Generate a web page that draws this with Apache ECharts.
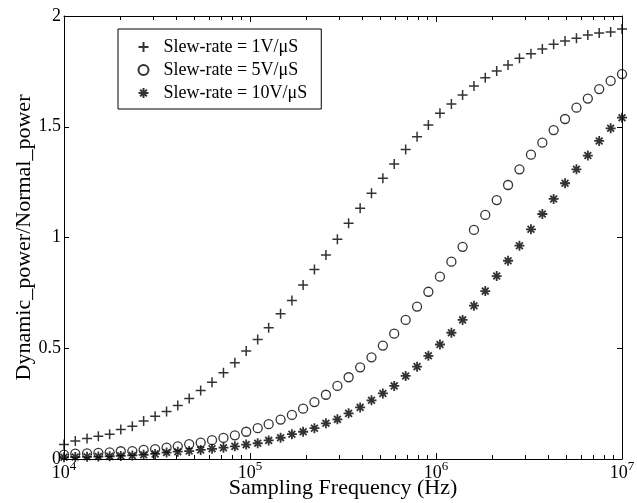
<!DOCTYPE html>
<html>
<head>
<meta charset="utf-8">
<script src="https://cdn.jsdelivr.net/npm/echarts@6/dist/echarts.min.js"></script>
<style>
  html, body { margin: 0; padding: 0; background: #fff; }
  #chart { width: 637px; height: 503px; }
</style>
</head>
<body>
<div id="chart"></div>
<script>
// Sampling frequencies (Hz), 50 log-spaced points over three decades
const frequencies = [
  10000, 11500, 13300, 15300, 17600, 20200, 23300, 26800, 30900, 35600,
  40900, 47100, 54300, 62500, 72000, 82900, 95400, 110000, 126000, 146000,
  168000, 193000, 222000, 256000, 295000, 339000, 391000, 450000, 518000, 596000,
  687000, 791000, 910000, 1050000, 1210000, 1390000, 1600000, 1840000, 2120000, 2440000,
  2810000, 3240000, 3730000, 4290000, 4940000, 5690000, 6550000, 7540000, 8690000, 10000000
];

// Dynamic_power / Normal_power ratio for each slew rate
const ratio1V = [
  0.066, 0.081, 0.092, 0.103, 0.112, 0.133, 0.148, 0.172, 0.193, 0.215,
  0.242, 0.273, 0.309, 0.347, 0.389, 0.435, 0.488, 0.540, 0.593, 0.656,
  0.716, 0.786, 0.856, 0.921, 0.992, 1.064, 1.132, 1.200, 1.267, 1.332,
  1.397, 1.455, 1.508, 1.561, 1.603, 1.643, 1.684, 1.721, 1.752, 1.779,
  1.809, 1.830, 1.851, 1.872, 1.887, 1.899, 1.914, 1.923, 1.928, 1.941
];
const ratio5V = [
  0.020, 0.024, 0.025, 0.028, 0.030, 0.035, 0.036, 0.041, 0.045, 0.051,
  0.057, 0.067, 0.074, 0.085, 0.095, 0.107, 0.123, 0.139, 0.157, 0.178,
  0.199, 0.227, 0.257, 0.290, 0.330, 0.369, 0.414, 0.459, 0.512, 0.566,
  0.628, 0.688, 0.755, 0.823, 0.891, 0.958, 1.034, 1.102, 1.169, 1.237,
  1.308, 1.374, 1.428, 1.485, 1.535, 1.586, 1.627, 1.670, 1.707, 1.738
];
const ratio10V = [
  0.008, 0.009, 0.010, 0.011, 0.012, 0.014, 0.016, 0.019, 0.023, 0.029,
  0.033, 0.036, 0.041, 0.046, 0.051, 0.057, 0.065, 0.071, 0.084, 0.096,
  0.112, 0.123, 0.139, 0.161, 0.179, 0.206, 0.233, 0.265, 0.296, 0.330,
  0.375, 0.417, 0.466, 0.517, 0.570, 0.628, 0.692, 0.758, 0.826, 0.895,
  0.963, 1.037, 1.106, 1.174, 1.245, 1.308, 1.370, 1.436, 1.493, 1.541
];

const seriesNames = ['Slew-rate = 1V/\u03bcS', 'Slew-rate = 5V/\u03bcS', 'Slew-rate = 10V/\u03bcS'];

// Minor tick positions on the logarithmic frequency axis
const minorTickFreqs = [
  20000, 30000, 40000, 50000, 60000, 70000, 80000, 90000,
  200000, 300000, 400000, 500000, 600000, 700000, 800000, 900000,
  2000000, 3000000, 4000000, 5000000, 6000000, 7000000, 8000000, 9000000
];

const xMin = 1e4, xMax = 1e7, yMin = 0, yMax = 2;
const FONT = '"Liberation Serif", "Times New Roman", serif';

const plusSymbol = 'path://M5 0L5 10M0 5L10 5';
const starSymbol = 'path://M5 0L5 10M0 5L10 5M1.6 1.6L8.4 8.4M8.4 1.6L1.6 8.4';

function pairs(ys) { return frequencies.map((f, i) => [f, ys[i]]); }

const chart = echarts.init(document.getElementById('chart'), null, { renderer: 'canvas' });

const xAxisCommon = {
  type: 'log',
  logBase: 10,
  min: xMin,
  max: xMax,
  axisLine: { show: true, onZero: false, lineStyle: { color: '#000', width: 1 } },
  axisTick: { show: true, inside: true, length: 6, lineStyle: { color: '#000', width: 1 } },
  splitLine: { show: false },
  minorTick: { show: false },
  minorSplitLine: { show: false }
};
const yAxisCommon = {
  type: 'value',
  min: yMin,
  max: yMax,
  interval: 0.5,
  axisLine: { show: true, onZero: false, lineStyle: { color: '#000', width: 1 } },
  axisTick: { show: true, inside: true, length: 5, lineStyle: { color: '#000', width: 1 } },
  splitLine: { show: false }
};

chart.setOption({
  backgroundColor: '#fff',
  animation: false,
  textStyle: { fontFamily: FONT, color: '#000' },
  grid: { left: 64, right: 15, top: 16, bottom: 44, containLabel: false, outerBoundsMode: 'none' },
  xAxis: [
    Object.assign({}, xAxisCommon, {
      position: 'bottom',
      name: 'Sampling Frequency (Hz)',
      nameLocation: 'middle',
      nameGap: 18,
      nameMoveOverlap: false,
      nameTextStyle: { fontFamily: FONT, fontSize: 22, color: '#000' },
      axisLabel: {
        show: true,
        margin: 1,
        formatter: v => '{b|10}{s|' + Math.round(Math.log10(v)) + '}',
        rich: {
          b: { fontFamily: FONT, fontSize: 18, color: '#000', lineHeight: 22, verticalAlign: 'bottom' },
          s: { fontFamily: FONT, fontSize: 13, color: '#000', lineHeight: 22, verticalAlign: 'top' }
        }
      }
    }),
    Object.assign({}, xAxisCommon, {
      position: 'top',
      axisLabel: { show: false }
    })
  ],
  yAxis: [
    Object.assign({}, yAxisCommon, {
      position: 'left',
      name: 'Dynamic_power/Normal_power',
      nameLocation: 'middle',
      nameGap: 29,
      nameMoveOverlap: false,
      nameTextStyle: { fontFamily: FONT, fontSize: 22, color: '#000' },
      axisLabel: {
        show: true,
        margin: 3,
        fontFamily: FONT,
        fontSize: 18,
        color: '#000',
        formatter: v => String(v)
      }
    }),
    Object.assign({}, yAxisCommon, {
      position: 'right',
      axisLabel: { show: false }
    })
  ],
  legend: {
    show: true,
    orient: 'vertical',
    left: 118,
    top: 29,
    padding: [9, 14, 7, 18],
    itemWidth: 30,
    itemHeight: 10,
    itemGap: 5,
    borderColor: '#000',
    borderWidth: 1,
    backgroundColor: '#fff',
    textStyle: { fontFamily: FONT, fontSize: 18, color: '#000', lineHeight: 18 },
    data: seriesNames
  },
  series: [
    {
      name: seriesNames[0],
      type: 'scatter',
      symbol: plusSymbol,
      symbolSize: 10,
      itemStyle: { color: 'none', borderColor: '#000', borderWidth: 1.5 },
      data: pairs(ratio1V),
      z: 3
    },
    {
      name: seriesNames[1],
      type: 'scatter',
      symbol: 'circle',
      symbolSize: 9,
      itemStyle: { color: 'none', borderColor: '#000', borderWidth: 1.3 },
      data: pairs(ratio5V),
      z: 3
    },
    {
      name: seriesNames[2],
      type: 'scatter',
      symbol: starSymbol,
      symbolSize: 10,
      itemStyle: { color: 'none', borderColor: '#000', borderWidth: 1.8 },
      data: pairs(ratio10V),
      z: 3
    },
    {
      // minor ticks along the bottom and top frequency axes
      type: 'custom',
      coordinateSystem: 'cartesian2d',
      silent: true,
      clip: false,
      data: minorTickFreqs.map(f => [f, yMin]),
      renderItem: (params, api) => {
        const f = api.value(0);
        const b = api.coord([f, yMin]);
        const t = api.coord([f, yMax]);
        const x = Math.round(b[0]) + 0.5;
        return {
          type: 'group',
          children: [
            { type: 'line', shape: { x1: x, y1: b[1], x2: x, y2: b[1] - 4 }, style: { stroke: '#000', lineWidth: 1 } },
            { type: 'line', shape: { x1: x, y1: t[1], x2: x, y2: t[1] + 4 }, style: { stroke: '#000', lineWidth: 1 } }
          ]
        };
      },
      z: 2
    }
  ]
});
</script>
</body>
</html>
